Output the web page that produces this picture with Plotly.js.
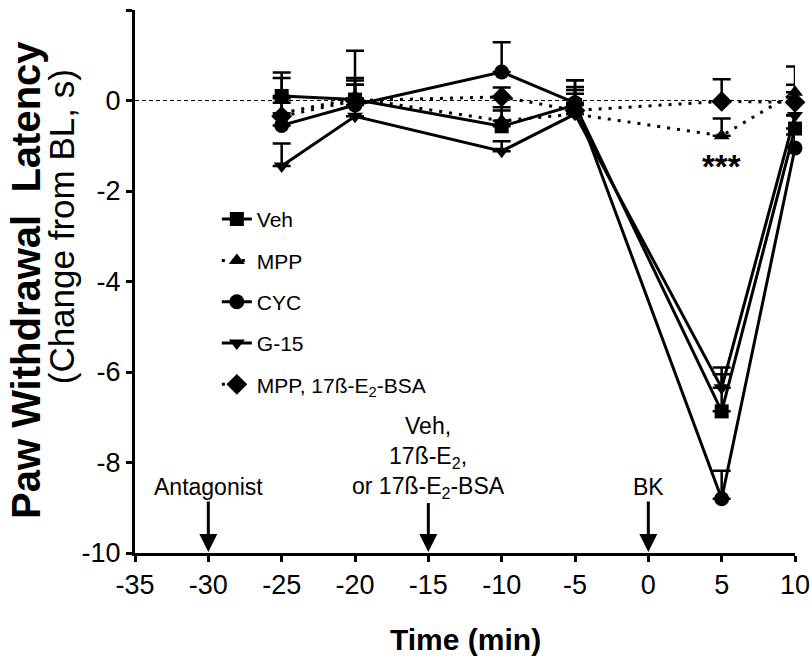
<!DOCTYPE html>
<html>
<head>
<meta charset="utf-8">
<script src="https://cdn.plot.ly/plotly-3.0.1.min.js"></script>
<style>body{margin:0;padding:0;background:#fff;} #chart{width:810px;height:656px;}</style>
</head>
<body>
<div id="chart"></div>
<script>
const time = [-25, -20, -10, -5, 5, 10];
const seriesNames = ["Veh", "MPP", "CYC", "G-15", "MPP, 17ß-E<sub>2</sub>-BSA"];
const vehY   = [0.10, 0.02, -0.57, -0.10, -6.87, -0.62];
const vehErr = [0.52, 0.42, 0.35, 0.55, 0.97, 0.30];
const mppY   = [-0.28, 0.05, -0.45, -0.30, -0.78, 0.18];
const mppErr = [0.78, 0.45, 0.30, 0.60, 0.38, 0.57];
const cycY   = [-0.55, -0.10, 0.63, -0.05, -8.80, -1.05];
const cycErr = [0.50, 1.20, 0.66, 0.50, 0.62, 0.30];
const g15Y   = [-1.45, -0.35, -1.12, -0.30, -6.35, -0.33];
const g15Err = [0.50, 0.70, 0.22, 0.45, 0.30, 0.40];
const bsaY   = [-0.35, 0.00, 0.08, -0.22, -0.02, -0.04];
const bsaErr = [0.40, 0.35, 0.21, 0.45, 0.49, 0.39];

const xTicks = [-35, -30, -25, -20, -15, -10, -5, 0, 5, 10];
const yTicks = [-10, -8, -6, -4, -2, 0, 2];

const ys = [vehY, mppY, cycY, g15Y, bsaY];
const errs = [vehErr, mppErr, cycErr, g15Err, bsaErr];
const symbols = ["square", "triangle-up", "circle", "triangle-down", "diamond"];
const sizes = [14, 14, 15, 14, 16];
const dashes = ["solid", "3px,7px", "solid", "solid", "3px,7px"];

const traces = seriesNames.map((name, i) => ({
  x: time, y: ys[i], name: name, type: "scatter", mode: "lines+markers",
  legendgroup: "g" + i, cliponaxis: false,
  line: {color: "#000", width: 3, dash: dashes[i]},
  marker: {symbol: symbols[i], size: sizes[i], color: "#000"},
  error_y: {type: "data", symmetric: false, array: errs[i], arrayminus: errs[i].map(() => 0),
            color: "#000", thickness: 2.5, width: 9}
}));

const af = {family: "Liberation Sans, Arial, sans-serif", size: 23, color: "#000"};
const arrowOpts = {showarrow: true, ax: 0, arrowhead: 2, arrowsize: 1.2, arrowwidth: 3,
                   arrowcolor: "#000", standoff: 1, font: af, xref: "x", yref: "y", y: -10};
const layout = {
  width: 810, height: 656,
  margin: {l: 135, r: 15, t: 10, b: 103},
  paper_bgcolor: "#fff", plot_bgcolor: "#fff",
  font: {family: "Liberation Sans, Arial, sans-serif", color: "#000"},
  showlegend: true,
  legend: {x: 0.124, y: 0.652, xanchor: "left", yanchor: "top", tracegroupgap: 11,
           font: {size: 21, color: "#000"}, bgcolor: "rgba(0,0,0,0)"},
  xaxis: {range: [-35, 10], tickvals: xTicks, ticktext: xTicks.map(String), ticklabeloverflow: "allow",
          showline: true, linewidth: 3, linecolor: "#000", ticks: "outside", ticklen: 6, tickwidth: 3,
          tickcolor: "#000", showgrid: false, zeroline: false, tickfont: {size: 27, color: "#000"}},
  yaxis: {range: [-10, 2], tickvals: yTicks, ticktext: yTicks.map(String),
          showline: true, linewidth: 3, linecolor: "#000", ticks: "outside", ticklen: 6, tickwidth: 3,
          tickcolor: "#000", showgrid: false, zeroline: false, tickfont: {size: 27, color: "#000"}},
  shapes: [{type: "line", xref: "paper", x0: 0, x1: 1, yref: "y", y0: 0, y1: 0,
            line: {color: "#000", width: 1, dash: "4px,3px"}, layer: "below"}],
  annotations: [
    {xref: "paper", yref: "paper", x: -0.165, y: 0.503, xanchor: "center", yanchor: "middle",
     text: "<b>Paw Withdrawal  Latency</b>", textangle: -90, showarrow: false,
     font: {size: 40, color: "#000"}},
    {xref: "paper", yref: "paper", x: -0.112, y: 0.60, xanchor: "center", yanchor: "middle",
     text: "(Change from BL, s)", textangle: -90, showarrow: false, font: {size: 35, color: "#000"}},
    {xref: "paper", yref: "paper", x: 0.5, y: -0.160, xanchor: "center", yanchor: "middle",
     text: "<b>Time (min)</b>", showarrow: false, font: {size: 30, color: "#000"}},
    Object.assign({}, arrowOpts, {x: -30, text: "Antagonist", ay: -66}),
    Object.assign({}, arrowOpts, {x: -15, text: "Veh,<br>17ß-E<sub>2</sub>,<br>or 17ß-E<sub>2</sub>-BSA", ay: -96}),
    Object.assign({}, arrowOpts, {x: 0, text: "BK", ay: -66}),
    {x: 5, y: -1.45, xref: "x", yref: "y", text: "<b>***</b>", showarrow: false,
     font: {size: 33, color: "#000"}}
  ]
};
Plotly.newPlot("chart", traces, layout, {displayModeBar: false});
</script>
</body>
</html>
